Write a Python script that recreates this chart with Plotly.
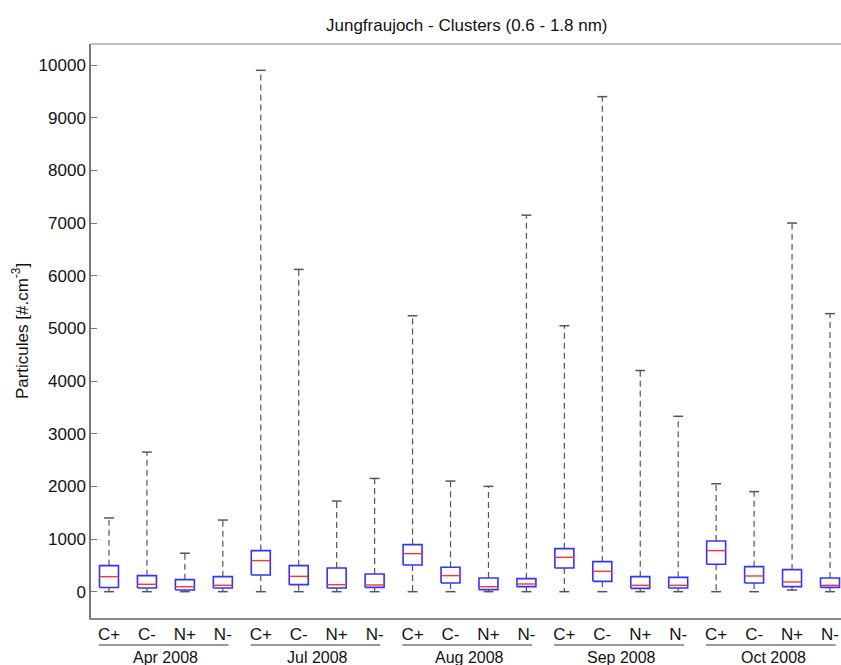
import plotly.graph_objects as go

months = ["Apr 2008", "Jul 2008", "Aug 2008", "Sep 2008", "Oct 2008"]
types = ["C+", "C-", "N+", "N-"]

lower = [0, 0, 0, 0,  0, 0, 0, 0,  0, 0, 0, 0,  0, 0, 0, 0,  0, 0, 30, 0]
q1 = [80, 70, 32, 70,  317, 133, 70, 82,  507, 165, 38, 95,  450, 196, 63, 70,  520, 165, 95, 82]
median = [285, 140, 95, 120,  590, 291, 133, 127,  722, 304, 95, 146,  652, 386, 120, 120,  780, 298, 184, 120]
q3 = [494, 304, 228, 285,  780, 494, 450, 336,  894, 463, 260, 247,  817, 570, 285, 272,  963, 475, 418, 260]
upper = [1400, 2650, 730, 1360,  9900, 6120, 1720, 2150,  5240, 2100, 2000, 7150,  5050, 9400, 4200, 3330,  2050, 1900, 7000, 5280]
y_ticks = list(range(0, 10001, 1000))

labels = [t for m in months for t in types]
xs = list(range(1, len(labels) + 1))

hw = 0.25   # half box width
cw = 0.13   # half cap width

box_x, box_y = [], []
med_x, med_y = [], []
wh_x, wh_y = [], []
cap_x, cap_y = [], []
for x, lo, a, m, b, hi in zip(xs, lower, q1, median, q3, upper):
    box_x += [x - hw, x + hw, x + hw, x - hw, x - hw, None]
    box_y += [a, a, b, b, a, None]
    med_x += [x - hw, x + hw, None]
    med_y += [m, m, None]
    wh_x += [x, x, None, x, x, None]
    wh_y += [b, hi, None, a, lo, None]
    cap_x += [x - cw, x + cw, None, x - cw, x + cw, None]
    cap_y += [hi, hi, None, lo, lo, None]

fig = go.Figure()
fig.add_trace(go.Scatter(x=wh_x, y=wh_y, mode="lines",
                         line=dict(color="#555555", width=1.2, dash="6px,4px"),
                         hoverinfo="skip", showlegend=False))
fig.add_trace(go.Scatter(x=cap_x, y=cap_y, mode="lines",
                         line=dict(color="#555555", width=1.5),
                         hoverinfo="skip", showlegend=False))
fig.add_trace(go.Scatter(x=box_x, y=box_y, mode="lines",
                         line=dict(color="#3333ff", width=1.6),
                         hoverinfo="skip", showlegend=False))
fig.add_trace(go.Scatter(x=med_x, y=med_y, mode="lines",
                         line=dict(color="#ff3333", width=1.4),
                         hoverinfo="skip", showlegend=False))

font = "Liberation Sans, Arial, sans-serif"
fs = 17

# month group annotations and underline
for i, m in enumerate(months):
    x0 = xs[4 * i]
    x1 = xs[4 * i + 3]
    fig.add_shape(type="line", xref="x", yref="paper",
                  x0=x0 - 0.27, x1=x1 + 0.15, y0=-0.047, y1=-0.047,
                  line=dict(color="#777777", width=1.5))
    fig.add_annotation(x=(x0 + x1) / 2, y=-0.068, xref="x", yref="paper",
                       text=m, showarrow=False, yanchor="middle",
                       font=dict(size=16, color="#111111", family=font))

fig.update_layout(
    width=841, height=665,
    margin=dict(l=91, r=0, t=44, b=47),
    paper_bgcolor="white", plot_bgcolor="white",
    title=dict(text="Jungfraujoch - Clusters (0.6 - 1.8 nm)", x=0.555, xanchor="center",
               y=1 - 25 / 665, yanchor="middle",
               font=dict(size=fs, color="#111111", family=font)),
    font=dict(family=font, color="#111111"),
    showlegend=False,
)
fig.update_xaxes(range=[0.526, 20.29], tickmode="array", tickvals=xs, ticktext=labels,
                 showgrid=False, zeroline=False, showline=True, linecolor="#888888",
                 linewidth=1.5, ticks="", tickfont=dict(size=fs, family=font, color="#111111"),
                 mirror=False)
fig.update_yaxes(range=[-500, 10400], tickmode="array", tickvals=y_ticks,
                 ticktext=[str(v) for v in y_ticks],
                 showgrid=False, zeroline=False, showline=True, linecolor="#777777",
                 linewidth=1.5, ticks="inside", ticklen=6, tickcolor="#777777",
                 tickfont=dict(size=fs, family=font, color="#111111"),
                 title=dict(text="Particules [#.cm<sup>-3</sup>]", standoff=6,
                            font=dict(size=fs, family=font, color="#111111")))
# top frame line
fig.add_shape(type="line", xref="paper", yref="paper", x0=0, x1=1, y0=1, y1=1,
              line=dict(color="#aaaaaa", width=1.5))

fig.write_html("out.html", config={"displayModeBar": False},
               post_script="document.body.style.margin='0';document.body.style.overflow='hidden';")
